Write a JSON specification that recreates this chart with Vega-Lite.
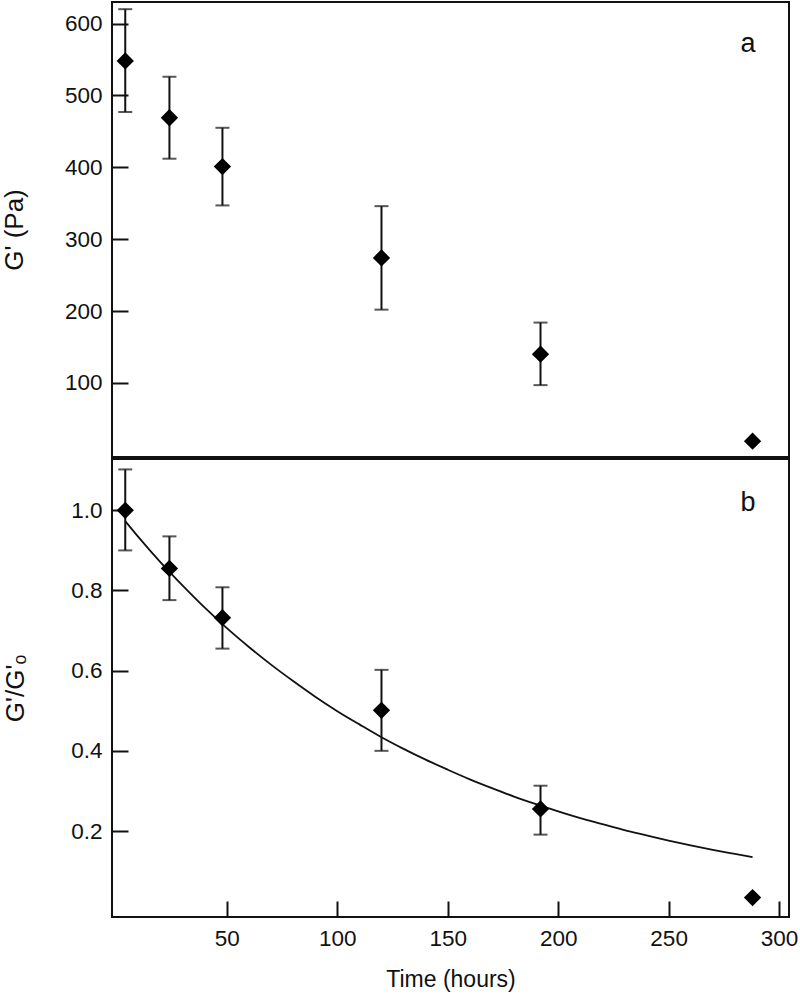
{
  "$schema": "https://vega.github.io/schema/vega-lite/v6.json",
  "padding": {"top": 1, "left": 0, "right": 0, "bottom": 0},
  "background": "white",
  "spacing": 0,
  "config": {
    "view": {"stroke": "#111", "strokeWidth": 2},
    "font": "Liberation Sans",
    "axis": {
      "domain": false,
      "grid": false,
      "tickSize": -16,
      "tickWidth": 2,
      "tickColor": "#111",
      "labelFont": "Liberation Sans",
      "labelFontSize": 22.5,
      "labelColor": "#111",
      "titleFont": "Liberation Sans",
      "titleFontSize": 23,
      "titleFontWeight": "normal",
      "titleColor": "#111"
    }
  },
  "datasets": {
    "pts": [
      {"t": 4, "G": 548, "Glo": 477, "Ghi": 620, "R": 1.0, "Rlo": 0.90, "Rhi": 1.102},
      {"t": 24, "G": 469, "Glo": 412, "Ghi": 526, "R": 0.855, "Rlo": 0.776, "Rhi": 0.935},
      {"t": 48, "G": 401, "Glo": 347, "Ghi": 455, "R": 0.732, "Rlo": 0.655, "Rhi": 0.808},
      {"t": 120, "G": 274, "Glo": 202, "Ghi": 346, "R": 0.501, "Rlo": 0.40, "Rhi": 0.602},
      {"t": 192, "G": 140, "Glo": 97, "Ghi": 184, "R": 0.255, "Rlo": 0.191, "Rhi": 0.313},
      {"t": 288, "G": 19, "Glo": null, "Ghi": null, "R": 0.034, "Rlo": null, "Rhi": null}
    ],
    "fit": [
      {"t": 4, "R": 0.973}, {"t": 10, "R": 0.933}, {"t": 20, "R": 0.870},
      {"t": 30, "R": 0.812}, {"t": 40, "R": 0.757}, {"t": 50, "R": 0.706},
      {"t": 60, "R": 0.659}, {"t": 70, "R": 0.615}, {"t": 80, "R": 0.574},
      {"t": 90, "R": 0.535}, {"t": 100, "R": 0.499}, {"t": 110, "R": 0.466},
      {"t": 120, "R": 0.434}, {"t": 130, "R": 0.405}, {"t": 140, "R": 0.378},
      {"t": 150, "R": 0.353}, {"t": 160, "R": 0.329}, {"t": 170, "R": 0.307},
      {"t": 180, "R": 0.286}, {"t": 190, "R": 0.267}, {"t": 200, "R": 0.249},
      {"t": 210, "R": 0.232}, {"t": 220, "R": 0.217}, {"t": 230, "R": 0.202},
      {"t": 240, "R": 0.189}, {"t": 250, "R": 0.176}, {"t": 260, "R": 0.164},
      {"t": 270, "R": 0.153}, {"t": 280, "R": 0.143}, {"t": 288, "R": 0.135}
    ],
    "labA": [{"t": 286, "v": 571, "lab": "a"}],
    "labB": [{"t": 286, "v": 1.018, "lab": "b"}]
  },
  "vconcat": [
    {
      "width": 677,
      "height": 455,
      "layer": [
        {
          "data": {"name": "pts"},
          "transform": [{"filter": "datum.Glo != null"}],
          "mark": {"type": "rule", "color": "#111", "strokeWidth": 2},
          "encoding": {
            "x": {"field": "t", "type": "quantitative", "scale": {"domain": [-2, 304.5], "nice": false, "zero": false}, "axis": null},
            "y": {"field": "Glo", "type": "quantitative", "scale": {"domain": [-3, 630], "nice": false, "zero": false},
                  "axis": {"title": "G' (Pa)", "titleFontSize": 26, "values": [100, 200, 300, 400, 500, 600], "labelPadding": 26, "titlePadding": 37}},
            "y2": {"field": "Ghi"}
          }
        },
        {
          "data": {"name": "pts"},
          "transform": [{"filter": "datum.Glo != null"}],
          "mark": {"type": "tick", "orient": "horizontal", "color": "#111", "size": 14, "thickness": 2},
          "encoding": {
            "x": {"field": "t", "type": "quantitative"},
            "y": {"field": "Glo", "type": "quantitative"}
          }
        },
        {
          "data": {"name": "pts"},
          "transform": [{"filter": "datum.Glo != null"}],
          "mark": {"type": "tick", "orient": "horizontal", "color": "#111", "size": 14, "thickness": 2},
          "encoding": {
            "x": {"field": "t", "type": "quantitative"},
            "y": {"field": "Ghi", "type": "quantitative"}
          }
        },
        {
          "data": {"name": "pts"},
          "mark": {"type": "point", "shape": "diamond", "filled": true, "color": "#000", "size": 300, "opacity": 1},
          "encoding": {
            "x": {"field": "t", "type": "quantitative"},
            "y": {"field": "G", "type": "quantitative"}
          }
        },
        {
          "data": {"name": "labA"},
          "mark": {"type": "text", "fontSize": 27, "font": "Liberation Sans", "color": "#111", "baseline": "middle", "align": "center"},
          "encoding": {
            "x": {"field": "t", "type": "quantitative"},
            "y": {"field": "v", "type": "quantitative"},
            "text": {"field": "lab"}
          }
        }
      ]
    },
    {
      "width": 677,
      "height": 458,
      "layer": [
        {
          "data": {"name": "fit"},
          "mark": {"type": "line", "color": "#111", "strokeWidth": 1.8, "interpolate": "monotone"},
          "encoding": {
            "x": {"field": "t", "type": "quantitative", "scale": {"domain": [-2, 304.5], "nice": false, "zero": false},
                  "axis": {"title": "Time (hours)", "values": [50, 100, 150, 200, 250, 300], "labelPadding": 26, "titlePadding": 19}},
            "y": {"field": "R", "type": "quantitative", "scale": {"domain": [-0.0145, 1.128], "nice": false, "zero": false},
                  "axis": {"title": "G'/G'ₒ", "titleFontSize": 26, "values": [0.2, 0.4, 0.6, 0.8, 1.0], "format": ".1f", "labelPadding": 26, "titlePadding": 42}}
          }
        },
        {
          "data": {"name": "pts"},
          "transform": [{"filter": "datum.Rlo != null"}],
          "mark": {"type": "rule", "color": "#111", "strokeWidth": 2},
          "encoding": {
            "x": {"field": "t", "type": "quantitative"},
            "y": {"field": "Rlo", "type": "quantitative"},
            "y2": {"field": "Rhi"}
          }
        },
        {
          "data": {"name": "pts"},
          "transform": [{"filter": "datum.Rlo != null"}],
          "mark": {"type": "tick", "orient": "horizontal", "color": "#111", "size": 14, "thickness": 2},
          "encoding": {
            "x": {"field": "t", "type": "quantitative"},
            "y": {"field": "Rlo", "type": "quantitative"}
          }
        },
        {
          "data": {"name": "pts"},
          "transform": [{"filter": "datum.Rlo != null"}],
          "mark": {"type": "tick", "orient": "horizontal", "color": "#111", "size": 14, "thickness": 2},
          "encoding": {
            "x": {"field": "t", "type": "quantitative"},
            "y": {"field": "Rhi", "type": "quantitative"}
          }
        },
        {
          "data": {"name": "pts"},
          "mark": {"type": "point", "shape": "diamond", "filled": true, "color": "#000", "size": 300, "opacity": 1},
          "encoding": {
            "x": {"field": "t", "type": "quantitative"},
            "y": {"field": "R", "type": "quantitative"}
          }
        },
        {
          "data": {"name": "labB"},
          "mark": {"type": "text", "fontSize": 27, "font": "Liberation Sans", "color": "#111", "baseline": "middle", "align": "center"},
          "encoding": {
            "x": {"field": "t", "type": "quantitative"},
            "y": {"field": "v", "type": "quantitative"},
            "text": {"field": "lab"}
          }
        }
      ]
    }
  ]
}
